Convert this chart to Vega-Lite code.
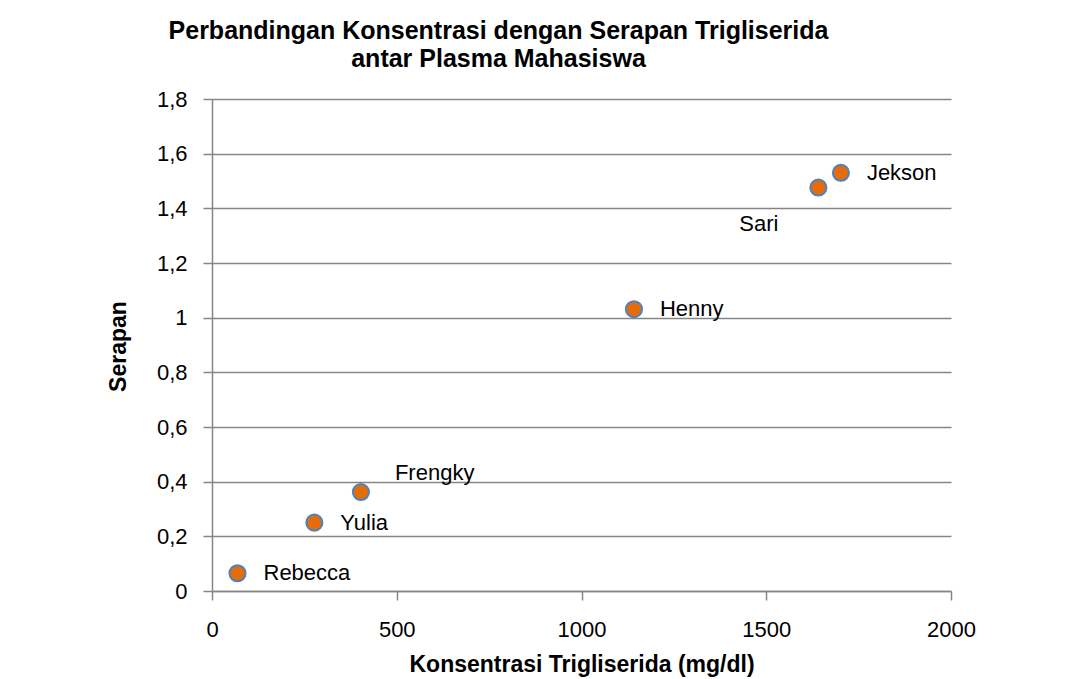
{
  "$schema": "https://vega.github.io/schema/vega-lite/v6.json",
  "width": 739,
  "height": 492,
  "autosize": {"type": "none"},
  "padding": {"left": 212, "top": 99, "right": 128, "bottom": 88},
  "background": "white",
  "config": {
    "font": "Liberation Sans",
    "view": {"stroke": null}
  },
  "title": {
    "text": ["Perbandingan Konsentrasi dengan Serapan Trigliserida", "antar Plasma Mahasiswa"],
    "font": "Liberation Sans",
    "fontSize": 25,
    "fontWeight": "bold",
    "color": "#000000",
    "anchor": "middle",
    "dx": -83,
    "dy": 40,
    "baseline": "bottom",
    "lineHeight": 28,
    "offset": 31
  },
  "data": {
    "values": [
      {"nama": "Rebecca", "konsentrasi": 69, "serapan": 0.065},
      {"nama": "Yulia", "konsentrasi": 277, "serapan": 0.25},
      {"nama": "Frengky", "konsentrasi": 403, "serapan": 0.362},
      {"nama": "Henny", "konsentrasi": 1142, "serapan": 1.031},
      {"nama": "Sari", "konsentrasi": 1641, "serapan": 1.476},
      {"nama": "Jekson", "konsentrasi": 1702, "serapan": 1.53}
    ]
  },
  "encoding": {
    "x": {
      "field": "konsentrasi",
      "type": "quantitative",
      "scale": {"domain": [0, 2000], "nice": false, "zero": true},
      "axis": {
        "values": [0, 500, 1000, 1500, 2000],
        "format": "d",
        "title": "Konsentrasi Trigliserida (mg/dl)",
        "titleFont": "Liberation Sans",
        "titleFontSize": 23,
        "titleFontWeight": "bold",
        "titleColor": "#000000",
        "titleBaseline": "alphabetic",
        "titleY": 80,
        "grid": false,
        "domainColor": "#868686",
        "domainWidth": 1.5,
        "tickColor": "#868686",
        "tickWidth": 1.5,
        "tickSize": 9,
        "labelFont": "Liberation Sans",
        "labelFontSize": 22,
        "labelColor": "#000000",
        "labelPadding": 19,
        "labelFlush": false,
        "labelOverlap": false
      }
    },
    "y": {
      "field": "serapan",
      "type": "quantitative",
      "scale": {"domain": [0, 1.8], "nice": false},
      "axis": {
        "values": [0, 0.2, 0.4, 0.6, 0.8, 1, 1.2, 1.4, 1.6, 1.8],
        "format": ".1~f",
        "labelExpr": "replace(datum.label, '.', ',')",
        "title": "Serapan",
        "titleFont": "Liberation Sans",
        "titleFontSize": 23,
        "titleFontWeight": "bold",
        "titleColor": "#000000",
        "titleAngle": 270,
        "titleAlign": "center",
        "titleBaseline": "middle",
        "titleX": -94,
        "titleY": 247,
        "grid": true,
        "gridColor": "#868686",
        "gridWidth": 1.5,
        "domainColor": "#868686",
        "domainWidth": 1.5,
        "tickColor": "#868686",
        "tickWidth": 1.5,
        "tickSize": 9,
        "labelFont": "Liberation Sans",
        "labelFontSize": 22,
        "labelColor": "#000000",
        "labelPadding": 16,
        "labelFlush": false,
        "labelOverlap": false
      }
    }
  },
  "layer": [
    {
      "mark": {"type": "point", "shape": "circle", "filled": true, "size": 260, "fill": "#E46C0A", "stroke": "#4F81BD", "strokeWidth": 2, "opacity": 1}
    },
    {
      "transform": [{"filter": "datum.nama != 'Frengky' && datum.nama != 'Sari'"}],
      "mark": {"type": "text", "align": "left", "baseline": "middle", "dx": 26, "fontSize": 22, "font": "Liberation Sans", "color": "#000000"},
      "encoding": {"text": {"field": "nama"}}
    },
    {
      "transform": [{"filter": "datum.nama == 'Frengky'"}],
      "mark": {"type": "text", "align": "left", "baseline": "middle", "dx": 34, "dy": -19, "fontSize": 22, "font": "Liberation Sans", "color": "#000000"},
      "encoding": {"text": {"field": "nama"}}
    },
    {
      "transform": [{"filter": "datum.nama == 'Sari'"}],
      "mark": {"type": "text", "align": "right", "baseline": "middle", "dx": -40, "dy": 36, "fontSize": 22, "font": "Liberation Sans", "color": "#000000"},
      "encoding": {"text": {"field": "nama"}}
    }
  ]
}
